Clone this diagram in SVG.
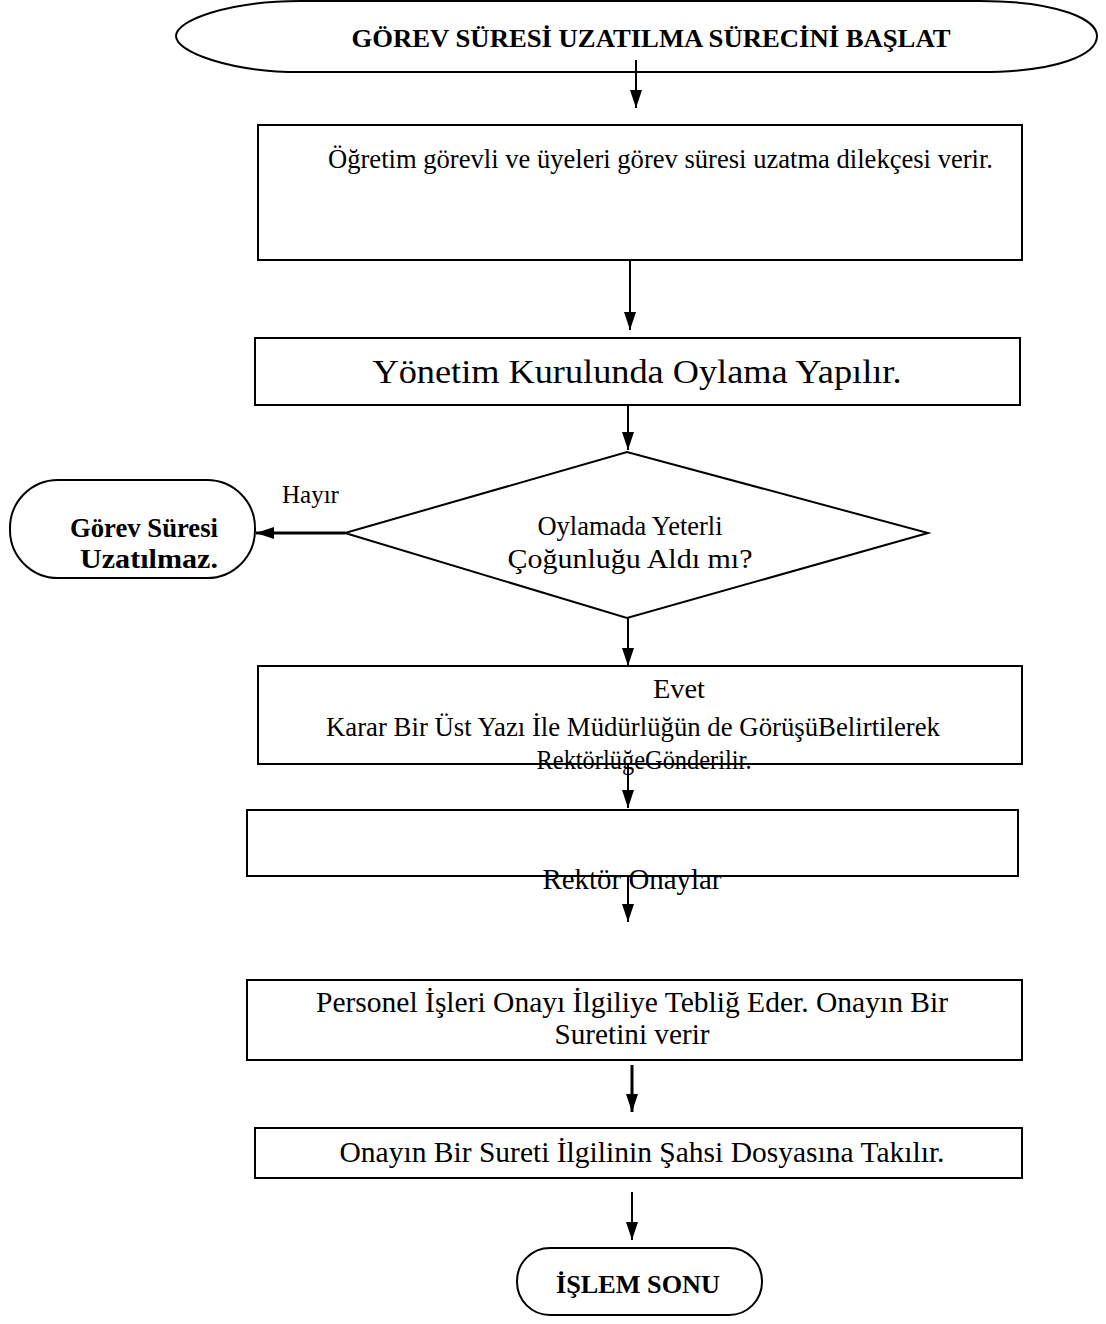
<svg xmlns="http://www.w3.org/2000/svg" width="1106" height="1324" viewBox="0 0 1106 1324">
<defs>
<marker id="ah" viewBox="0 0 18 12" refX="18" refY="6" markerWidth="18" markerHeight="12" markerUnits="userSpaceOnUse" orient="auto">
<path d="M0,0 L18,6 L0,12 Z" fill="#000"/>
</marker>
</defs>
<style>
.box{fill:#fff;stroke:#000;stroke-width:2}
.t{font-family:"Liberation Serif","Times New Roman",serif;font-size:28px;fill:#000}
.b{font-weight:bold;font-size:26px}
.c{text-anchor:middle}
.con{stroke:#000;stroke-width:2;fill:none}
</style>
<rect width="1106" height="1324" fill="#fff"/>
<g id="start">
<path class="box" d="M300,1 L980,1 C1060,1 1097,20 1097,36 C1097,54 1060,72 980,72 L300,72 C230,72 176,52 176,36 C176,20 230,1 300,1 Z"/>
<text class="t b c" x="651" y="47" textLength="599" lengthAdjust="spacingAndGlyphs">GÖREV SÜRESİ UZATILMA SÜRECİNİ BAŞLAT</text>
</g>
<g id="n1">
<rect class="box" x="258" y="125" width="764" height="135"/>
<text class="t" x="328" y="168" style="font-size:27px" textLength="665" lengthAdjust="spacingAndGlyphs">Öğretim görevli ve üyeleri görev süresi uzatma dilekçesi verir.</text>
</g>
<g id="n2">
<rect class="box" x="255" y="338" width="765" height="67"/>
<text class="t c" x="637" y="383" style="font-size:34px" textLength="529" lengthAdjust="spacingAndGlyphs">Yönetim Kurulunda Oylama Yapılır.</text>
</g>
<g id="decision">
<polygon class="box" points="345,533 627,452 928,533 627,618"/>
<text class="t c" x="630" y="535" textLength="185" lengthAdjust="spacingAndGlyphs">Oylamada Yeterli</text>
<text class="t c" x="630" y="568" textLength="245" lengthAdjust="spacingAndGlyphs">Çoğunluğu Aldı mı?</text>
</g>
<g id="no">
<rect class="box" x="10" y="480" width="245" height="98" rx="48" ry="48"/>
<text class="t b c" x="144" y="537" style="font-size:27px" textLength="148" lengthAdjust="spacingAndGlyphs">Görev Süresi</text>
<text class="t b c" x="149" y="568" style="font-size:28px" textLength="138" lengthAdjust="spacingAndGlyphs">Uzatılmaz.</text>
</g>
<g id="n3">
<rect class="box" x="258" y="666" width="764" height="98"/>
<text class="t c" x="679" y="698" textLength="52" lengthAdjust="spacingAndGlyphs">Evet</text>
<text class="t" x="326" y="736" textLength="614" lengthAdjust="spacingAndGlyphs">Karar Bir Üst Yazı İle Müdürlüğün de GörüşüBelirtilerek</text>
<text class="t c" x="644" y="769" textLength="215" lengthAdjust="spacingAndGlyphs">RektörlüğeGönderilir.</text>
</g>
<g id="n4">
<rect class="box" x="247" y="810" width="771" height="66"/>
<text class="t c" x="632" y="889" style="font-size:29px" textLength="179" lengthAdjust="spacingAndGlyphs">Rektör Onaylar</text>
</g>
<g id="n5">
<rect class="box" x="247" y="980" width="775" height="80"/>
<text class="t c" x="632" y="1012" style="font-size:29px" textLength="632" lengthAdjust="spacingAndGlyphs">Personel İşleri Onayı İlgiliye Tebliğ Eder. Onayın Bir</text>
<text class="t c" x="632" y="1044" style="font-size:29px" textLength="155" lengthAdjust="spacingAndGlyphs">Suretini verir</text>
</g>
<g id="n6">
<rect class="box" x="255" y="1128" width="767" height="50"/>
<text class="t c" x="642" y="1162" style="font-size:29px" textLength="605" lengthAdjust="spacingAndGlyphs">Onayın Bir Sureti İlgilinin Şahsi Dosyasına Takılır.</text>
</g>
<g id="end">
<rect class="box" x="517" y="1248" width="245" height="67" rx="33" ry="33"/>
<text class="t b c" x="638" y="1293" textLength="164" lengthAdjust="spacingAndGlyphs">İŞLEM SONU</text>
</g>
<g id="connectors">
<line class="con" x1="636" y1="60" x2="636" y2="108" marker-end="url(#ah)"/>
<line class="con" x1="630" y1="260" x2="630" y2="330" marker-end="url(#ah)"/>
<line class="con" x1="628" y1="405" x2="628" y2="450" marker-end="url(#ah)"/>
<line class="con" x1="628" y1="618" x2="628" y2="666" marker-end="url(#ah)"/>
<line class="con" x1="628" y1="764" x2="628" y2="808" marker-end="url(#ah)"/>
<line class="con" x1="628" y1="876" x2="628" y2="922" marker-end="url(#ah)"/>
<line class="con" x1="632" y1="1065" x2="632" y2="1112" style="stroke-width:3" marker-end="url(#ah)"/>
<line class="con" x1="632" y1="1192" x2="632" y2="1240" marker-end="url(#ah)"/>
<line class="con" x1="345" y1="533" x2="256" y2="533" style="stroke-width:3" marker-end="url(#ah)"/>
<text class="t" x="282" y="503" style="font-size:25px">Hayır</text>
</g>
</svg>
